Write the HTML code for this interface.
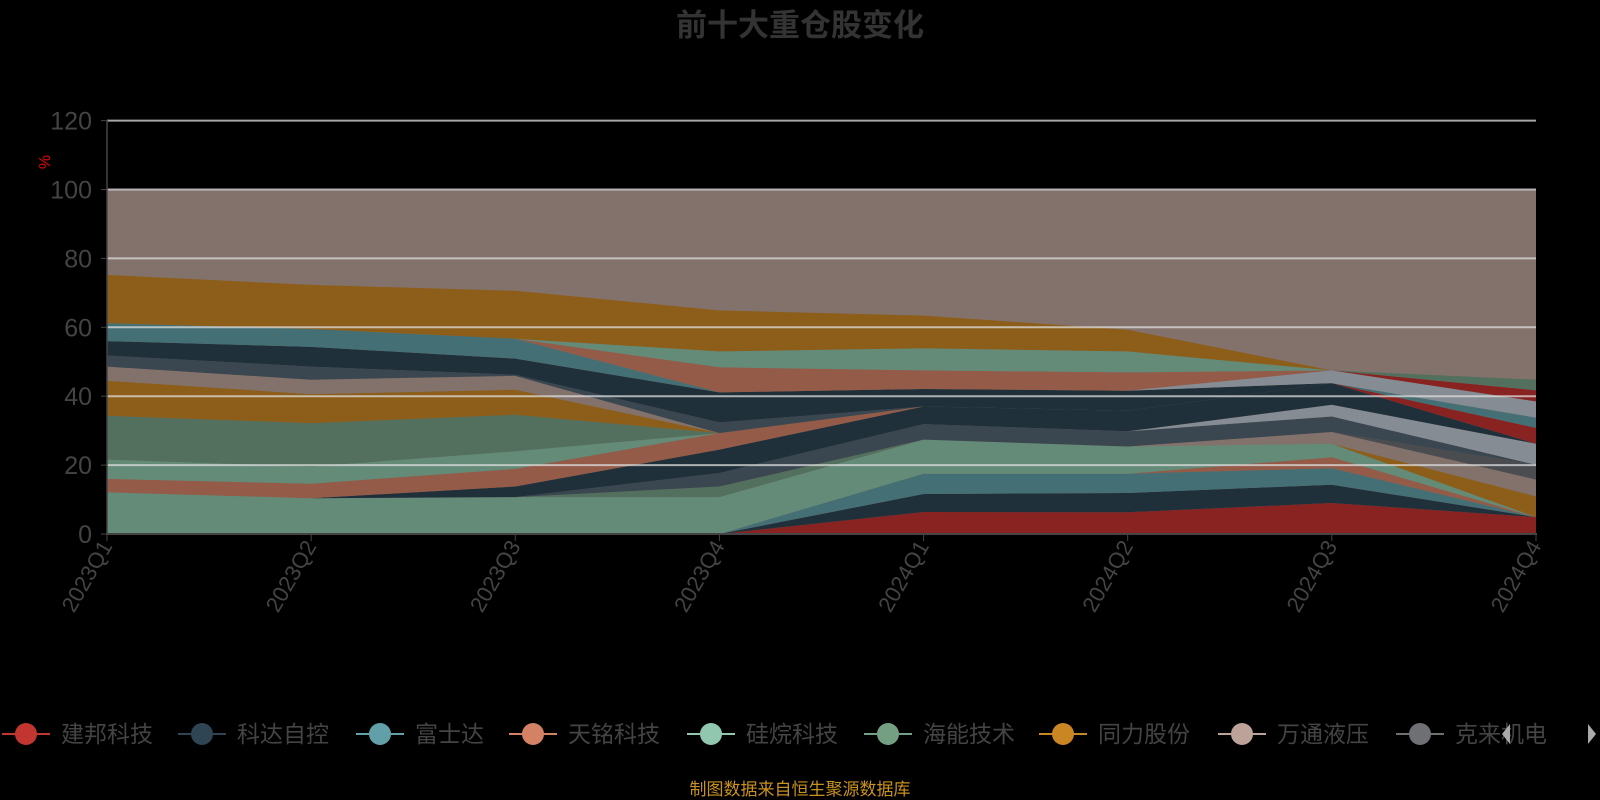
<!DOCTYPE html>
<html><head><meta charset="utf-8">
<style>
html,body{margin:0;padding:0;background:#000;}
body{width:1600px;height:800px;overflow:hidden;font-family:"Liberation Sans","Noto Sans CJK SC",sans-serif;}
</style></head>
<body>
<svg id="c" width="1600" height="800" xmlns="http://www.w3.org/2000/svg" style="position:absolute;left:0;top:0">
<text x="800" y="36" text-anchor="middle" font-size="31" font-weight="bold" fill="#333" font-family="Liberation Sans,Noto Sans CJK SC,sans-serif">前十大重仓股变化</text>
<g id="areas"></g>
<g id="grid"></g>
<text x="0" y="0" transform="translate(50,162) rotate(-90)" font-size="16" fill="#e00" text-anchor="middle">%</text>
<g id="legend"></g>
<text x="800" y="795" text-anchor="middle" font-size="17" fill="#c8921c" font-family="Liberation Sans,Noto Sans CJK SC,sans-serif">制图数据来自恒生聚源数据库</text>
</svg>
<script>
var NS="http://www.w3.org/2000/svg";
var X0=107,DX=204.14,Y0=534,K=(534-120.6)/120;
function px(i){return X0+DX*i;}
function py(v){return Y0-v*K;}
var C={R:"#882322",N:"#20303a",T:"#446f75",S:"#935b48",G:"#648b78",D:"#52705d",O:"#8c5e1a",M:"#83726b",L:"#3a4750",Y:"#868c93",K:"#4a4c50"};
var S=[
["R",[0,0,0,0,6.4,6.3,9,4.9]],
["N",[0,0,0,0,5.2,5.6,5.3,0]],
["T",[0,0,0,0,5.9,5.6,4.8,0]],
["S",[0,0,0,0,0,0,3.2,0]],
["G",[12.1,10.4,10.7,10.7,9.9,7.9,3.9,0]],
["O",[0,0,0,0,0,0,0,6]],
["M",[0,0,0,0,0,0,3.4,4.9]],
["K",[0,0,0,0,0,0,0,4.3]],
["D",[0,0,0,3.1,0,0,0,0]],
["L",[0,0,0,3.9,4.5,4.4,4.5,0]],
["Y",[0,0,0,0,0,0,3.4,6.1]],
["N",[0,0,3.1,6.8,5.1,6,6.3,0]],
["R",[0,0,0,0,0,0,0,4.6]],
["T",[0,0,0,0,0,0,0,3]],
["S",[3.9,4.2,5.1,4.8,0,0,0,0]],
["G",[5.6,5,5.1,0,0,0,0,0]],
["D",[12.7,12.6,10.6,0,0,0,0,0]],
["O",[10.2,8.4,7.3,0,0,0,0,0]],
["M",[4.1,4.2,4,0,0,0,0,0]],
["L",[3.2,3.8,0.3,3.1,0,0,0,0]],
["N",[4.2,5.7,4.7,8.7,5.1,5.8,0,0]],
["Y",[0,0,0,0,0,0,3.7,4.7]],
["R",[0,0,0,0,0,0,0,3.2]],
["T",[5.2,5.2,5.8,0,0,0,0,0]],
["S",[0,0,0,7.3,5.4,5.3,0,0]],
["G",[0,0,0,4.6,6.4,6.1,0,0]],
["D",[0,0,0,0,0,0,0,3.1]],
["O",[14,12.8,13.9,11.9,9.5,6.3,0,0]]
];
var base=[0,0,0,0,0,0,0,0],g=document.getElementById("areas");
function poly(lo,hi,col){
 var d="M";for(var i=0;i<8;i++)d+=px(i).toFixed(1)+","+py(hi[i]).toFixed(1)+" L";
 for(var i=7;i>=0;i--)d+=px(i).toFixed(1)+","+py(lo[i]).toFixed(1)+(i?" L":" Z");
 var p=document.createElementNS(NS,"path");p.setAttribute("d",d);p.setAttribute("fill",col);g.appendChild(p);}
poly([0,0,0,0,0,0,0,0],[100,100,100,100,100,100,100,100],C.M);
S.forEach(function(s){var hi=base.map(function(b,i){return b+s[1][i];});
 if(s[1].some(function(v){return v>0;}))poly(base,hi,C[s[0]]);base=hi;});
var gr=document.getElementById("grid"),h="";
for(var v=20;v<=120;v+=20)h+='<line x1="107" x2="1536" y1="'+py(v)+'" y2="'+py(v)+'" stroke="#ddd" stroke-opacity="0.75" stroke-width="2"/>';
h+='<line x1="107" x2="107" y1="120" y2="535" stroke="#444" stroke-width="1.5"/>';
h+='<line x1="106" x2="1537" y1="534" y2="534" stroke="#444" stroke-width="2"/>';
for(var v=0;v<=120;v+=20){h+='<line x1="101" x2="107" y1="'+py(v)+'" y2="'+py(v)+'" stroke="#444"/>';
 h+='<text x="92" y="'+(py(v)+9)+'" text-anchor="end" font-size="25" fill="#444">'+v+'</text>';}
var q=["2023Q1","2023Q2","2023Q3","2023Q4","2024Q1","2024Q2","2024Q3","2024Q4"];
for(var i=0;i<8;i++){var x=px(i);h+='<line x1="'+x+'" x2="'+x+'" y1="534" y2="541" stroke="#444"/>';
 h+='<text transform="translate('+(x+6)+',546) rotate(-60)" text-anchor="end" font-size="22" fill="#444">'+q[i]+'</text>';}
gr.innerHTML=h;
var L=[["建邦科技","#c23531"],["科达自控","#2f4554"],["富士达","#61a0a8"],["天铭科技","#d48265"],["硅烷科技","#91c7ae"],["海能技术","#749f83"],["同力股份","#ca8622"],["万通液压","#bda29a"],["克来机电","#6e7074"]];
var ix=[26,202,380,533,711,888,1063,1242,1420],lh="";
L.forEach(function(l,i){var x=ix[i];
 lh+='<line x1="'+(x-24)+'" x2="'+(x+24)+'" y1="734" y2="734" stroke="'+l[1]+'" stroke-width="2"/>';
 lh+='<circle cx="'+x+'" cy="734" r="11" fill="'+l[1]+'"/>';
 lh+='<text x="'+(x+35)+'" y="742" font-size="23" fill="#444">'+l[0]+'</text>';});
lh+='<path d="M1510 724 L1502 734 L1510 744 Z" fill="#aaa"/><path d="M1588 724 L1596 734 L1588 744 Z" fill="#aaa"/>';
document.getElementById("legend").innerHTML=lh;
</script>
</body></html>
